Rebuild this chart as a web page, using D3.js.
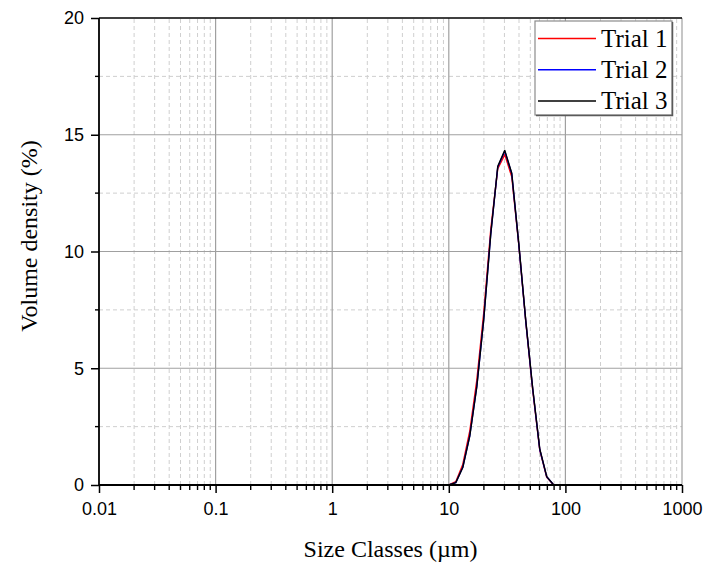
<!DOCTYPE html>
<html>
<head>
<meta charset="utf-8">
<script src="https://cdn.jsdelivr.net/npm/d3@7"></script>
<style>
  html, body { margin: 0; padding: 0; background: #fff; }
  svg { display: block; }
</style>
</head>
<body>
<svg id="chart" width="705" height="568"></svg>
<script>
// Size classes (µm) of the laser diffraction analysis
const sizeClasses = [10.0, 11.48, 13.18, 15.14, 17.38, 19.95, 22.91, 26.30, 30.20, 34.67, 39.81, 45.71, 52.48, 60.26, 69.18, 79.43];

// Volume density (%) per size class for each trial
const trial1 = [0, 0.14, 0.88, 2.32, 4.48, 7.38, 10.95, 13.55, 14.15, 13.20, 10.30, 7.00, 4.05, 1.50, 0.33, 0];
const trial2 = [0, 0.10, 0.76, 2.12, 4.22, 7.12, 10.76, 13.62, 14.30, 13.33, 10.32, 7.02, 4.10, 1.52, 0.35, 0];
const trial3 = [0, 0.10, 0.75, 2.10, 4.20, 7.10, 10.75, 13.65, 14.33, 13.35, 10.35, 7.05, 4.12, 1.55, 0.36, 0];

const seriesNames = ["Trial 1", "Trial 2", "Trial 3"];
const seriesColors = ["#ff0000", "#0000ff", "#000000"];

const xTickValues = [0.01, 0.1, 1, 10, 100, 1000];
const xTickLabels = ["0.01", "0.1", "1", "10", "100", "1000"];
const yTickValues = [0, 5, 10, 15, 20];

const svg = d3.select("#chart");
const margin = { left: 99, right: 23, top: 18, bottom: 83 };
const W = 705, H = 568;
const x0 = margin.left, x1 = W - margin.right;
const y0 = H - margin.bottom, y1 = margin.top;

const x = d3.scaleLog().domain([0.01, 1000]).range([x0, x1]);
const y = d3.scaleLinear().domain([0, 20]).range([y0, y1]);

// minor positions: 2..9 within each decade, and half steps on y
const xMinor = [];
for (let e = -2; e < 3; e++) for (let k = 2; k <= 9; k++) xMinor.push(k * Math.pow(10, e));
const yMinor = [2.5, 7.5, 12.5, 17.5];

const grid = svg.append("g");
// minor grid (dashed)
grid.selectAll(".vminor").data(xMinor).join("line")
  .attr("x1", d => x(d)).attr("x2", d => x(d))
  .attr("y1", y0).attr("y2", y1)
  .attr("stroke", "#cfcfcf").attr("stroke-width", 1).attr("stroke-dasharray", "4,3");
grid.selectAll(".hminor").data(yMinor).join("line")
  .attr("x1", x0).attr("x2", x1)
  .attr("y1", d => y(d)).attr("y2", d => y(d))
  .attr("stroke", "#cfcfcf").attr("stroke-width", 1).attr("stroke-dasharray", "4,3");
// major grid (solid)
grid.selectAll(".vmajor").data(xTickValues.slice(1)).join("line")
  .attr("x1", d => x(d)).attr("x2", d => x(d))
  .attr("y1", y0).attr("y2", y1)
  .attr("stroke", "#a0a0a0").attr("stroke-width", 1.2);
grid.selectAll(".hmajor").data(yTickValues.slice(1, -1)).join("line")
  .attr("x1", x0).attr("x2", x1)
  .attr("y1", d => y(d)).attr("y2", d => y(d))
  .attr("stroke", "#a0a0a0").attr("stroke-width", 1.2);

// data lines
const line = d3.line().x(d => x(d[0])).y(d => y(d[1]));
[trial1, trial2, trial3].forEach((vals, i) => {
  svg.append("path")
    .datum(sizeClasses.map((s, j) => [s, vals[j]]))
    .attr("fill", "none")
    .attr("stroke", seriesColors[i])
    .attr("stroke-width", 1.4)
    .attr("stroke-linejoin", "round")
    .attr("d", line);
});

// top frame line
svg.append("line").attr("x1", x0).attr("x2", x1).attr("y1", y1).attr("y2", y1)
  .attr("stroke", "#000").attr("stroke-width", 1.6);

// x axis
const xAxis = svg.append("g").attr("transform", `translate(0,${y0})`);
xAxis.call(d3.axisBottom(x).tickValues(xTickValues)
  .tickFormat((d, i) => xTickLabels[i]).tickSize(8).tickPadding(9));
xAxis.append("g").selectAll("line").data(xMinor).join("line")
  .attr("x1", d => x(d)).attr("x2", d => x(d)).attr("y1", 0).attr("y2", 5)
  .attr("stroke", "#000").attr("stroke-width", 1.4);
xAxis.select(".domain").attr("d", `M${x0},0H${x1}`).attr("stroke-width", 1.8);
xAxis.selectAll(".tick line").attr("stroke-width", 1.5);
xAxis.selectAll(".tick text")
  .attr("font-family", "'Liberation Sans', Arial, sans-serif")
  .attr("font-size", 18).attr("fill", "#000");

// y axis
const yAxis = svg.append("g").attr("transform", `translate(${x0},0)`);
yAxis.call(d3.axisLeft(y).tickValues(yTickValues).tickFormat(d3.format("d")).tickSize(8).tickPadding(7));
yAxis.append("g").selectAll("line").data(yMinor).join("line")
  .attr("x1", 0).attr("x2", -4).attr("y1", d => y(d)).attr("y2", d => y(d))
  .attr("stroke", "#000").attr("stroke-width", 1.4);
yAxis.select(".domain").attr("d", `M0,${y0}V${y1}`).attr("stroke-width", 1.8);
yAxis.selectAll(".tick line").attr("stroke-width", 1.5);
yAxis.selectAll(".tick text")
  .attr("font-family", "'Liberation Sans', Arial, sans-serif")
  .attr("font-size", 18).attr("fill", "#000");

// axis titles
svg.append("text")
  .attr("x", (x0 + x1) / 2).attr("y", 557)
  .attr("text-anchor", "middle")
  .attr("font-family", "'Liberation Serif', 'Times New Roman', serif")
  .attr("font-size", 24).attr("fill", "#000")
  .text("Size Classes (\u00b5m)");
svg.append("text")
  .attr("transform", "translate(37,236) rotate(-90)")
  .attr("text-anchor", "middle")
  .attr("font-family", "'Liberation Serif', 'Times New Roman', serif")
  .attr("font-size", 24).attr("fill", "#000")
  .text("Volume density (%)");

// legend
const lg = svg.append("g").attr("transform", "translate(535,21)");
lg.append("rect").attr("x", 0).attr("y", 0).attr("width", 137).attr("height", 94)
  .attr("fill", "#fff").attr("stroke", "#8c8c8c").attr("stroke-width", 1.2);
lg.append("path").attr("d", "M137.5,1V94.5H1").attr("fill", "none")
  .attr("stroke", "#5a5a5a").attr("stroke-width", 1.5);
seriesNames.forEach((name, i) => {
  const yy = 17.5 + i * 31.2;
  lg.append("line").attr("x1", 3).attr("x2", 61).attr("y1", yy).attr("y2", yy)
    .attr("stroke", seriesColors[i]).attr("stroke-width", 1.5);
  lg.append("text").attr("x", 66).attr("y", yy + 8)
    .attr("font-family", "'Liberation Serif', 'Times New Roman', serif")
    .attr("font-size", 25).attr("fill", "#000")
    .text(name);
});
</script>
</body>
</html>
